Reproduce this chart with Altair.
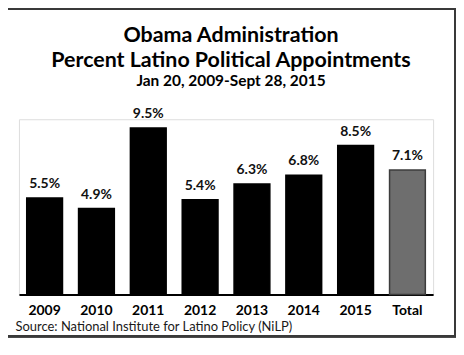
import altair as alt
import pandas as pd

categories = ["2009", "2010", "2011", "2012", "2013", "2014", "2015", "Total"]
values = [5.5, 4.9, 9.5, 5.4, 6.3, 6.8, 8.5, 7.1]
labels = ["5.5%", "4.9%", "9.5%", "5.4%", "6.3%", "6.8%", "8.5%", "7.1%"]
kinds = ["year"] * 7 + ["total"]

df = pd.DataFrame({"cat": categories, "val": values, "lab": labels, "kind": kinds})

FONT = "Lato"

x = alt.X("cat:N", sort=categories,
          scale=alt.Scale(paddingInner=0.31, paddingOuter=0.15),
          axis=alt.Axis(title="Source: National Institute for Latino Policy (NiLP)",
                        titleAnchor="start", titleX=-4, titleY=26, titleBaseline="top",
                        titleFont=FONT, titleFontSize=13, titleFontWeight="normal",
                        titleColor="#1a1a1a",
                        labelAngle=0, labelFont=FONT, labelFontSize=14,
                        labelFontWeight="bold", labelColor="#000000",
                        labelPadding=9, ticks=False,
                        domainColor="#000000", domainWidth=2))
y = alt.Y("val:Q", scale=alt.Scale(domain=[0, 10]), axis=None)

bars = alt.Chart(df).mark_bar(strokeWidth=1.5).encode(
    x=x, y=y,
    color=alt.Color("kind:N", scale=alt.Scale(domain=["year", "total"],
                                              range=["#000000", "#6e6e6e"]), legend=None),
    stroke=alt.Stroke("kind:N", scale=alt.Scale(domain=["year", "total"],
                                                range=["#000000", "#3c3c3c"]), legend=None),
)

text = alt.Chart(df).mark_text(font=FONT, fontSize=14, fontWeight="bold",
                               baseline="bottom", dy=-7, color="#111111").encode(
    x=alt.X("cat:N", sort=categories), y=y, text="lab:N")

border = alt.Chart(df).mark_rect(fill=None, stroke="#3a3a3a", strokeWidth=2).encode(
    x=alt.value(-12), x2=alt.value(438), y=alt.value(-111), y2=alt.value(218))

chart = alt.layer(bars, text, border).properties(
    width=416, height=176,
    autosize=alt.AutoSizeParams(type="none"),
    padding={"left": 11, "top": 111, "right": 23, "bottom": 43},
    title=alt.TitleParams(
        text=["Obama Administration", "Percent Latino Political Appointments"],
        subtitle="Jan 20, 2009-Sept 28, 2015",
        font=FONT, fontSize=21.5, fontWeight="bold", color="#000000", lineHeight=26,
        subtitleFont=FONT, subtitleFontSize=15.5, subtitleFontWeight="bold",
        subtitleColor="#000000", subtitlePadding=2,
        anchor="middle", dx=5, offset=0, dy=82),
).configure_view(strokeWidth=0).configure(background="white")

chart.save("out.html", embed_options={"renderer": "svg", "actions": False})
